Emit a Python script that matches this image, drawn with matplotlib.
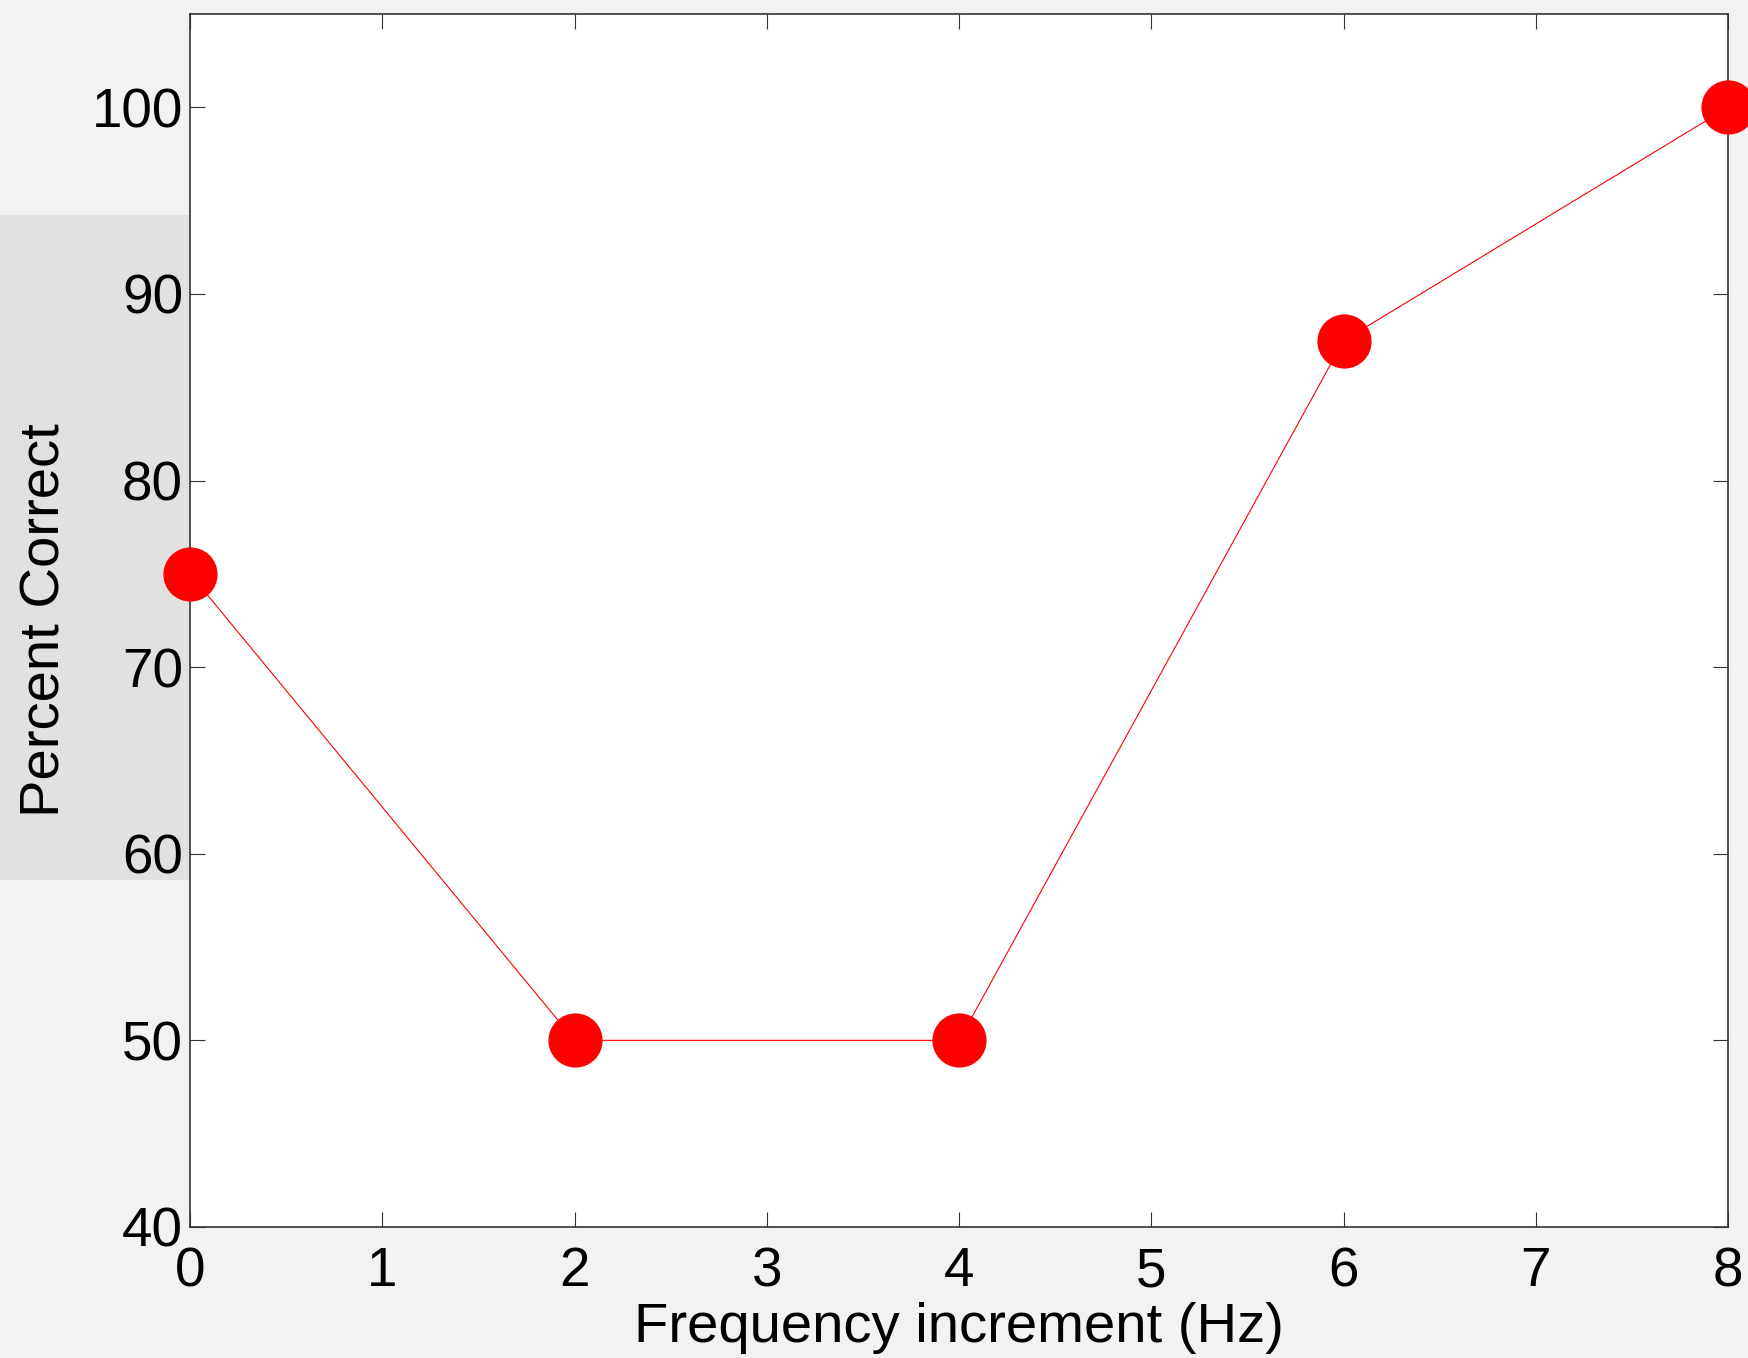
import matplotlib.pyplot as plt
from matplotlib.patches import Rectangle

# Percent correct against frequency increment
freq_hz = [0, 2, 4, 6, 8]
percent_correct = [75, 50, 50, 87.5, 100]
x_ticks = [0, 1, 2, 3, 4, 5, 6, 7, 8]
y_ticks = [40, 50, 60, 70, 80, 90, 100]

plt.rcParams["font.family"] = ["Liberation Sans", "DejaVu Sans"]

fig = plt.figure(figsize=(17.48, 13.58), dpi=100, facecolor="#f2f2f2")

# darker slide band behind the y label
fig.patches.append(Rectangle((0, 0.352), 0.11, 0.49, transform=fig.transFigure,
                             facecolor="#e1e1e1", edgecolor="none", zorder=-10))

ax = fig.add_axes([0.1087, 0.0965, 0.88, 0.8932])
ax.set_facecolor("white")

ax.plot(freq_hz, percent_correct, color="red", linewidth=0.8, marker="o",
        markersize=38, markerfacecolor="red", markeredgecolor="red",
        clip_on=False, zorder=5)

ax.set_xlim(0, 8)
ax.set_ylim(40, 105)
ax.set_xticks(x_ticks)
ax.set_yticks(y_ticks)

ax.tick_params(direction="in", length=11, width=0.8, labelsize=39.5,
               top=True, right=True, color="#333333")
ax.tick_params(axis="x", pad=14)
ax.tick_params(axis="y", pad=5)
for side in ax.spines.values():
    side.set_color("#333333")
    side.set_linewidth(1.2)

ax.set_xlabel("Frequency increment (Hz)", fontsize=40.5)
ax.set_ylabel("Percent Correct", fontsize=40.5)
ax.xaxis.set_label_coords(0.5, -0.062)
ax.yaxis.set_label_coords(-0.077, 0.5)

fig.savefig("out.png", dpi=100, facecolor=fig.get_facecolor())
